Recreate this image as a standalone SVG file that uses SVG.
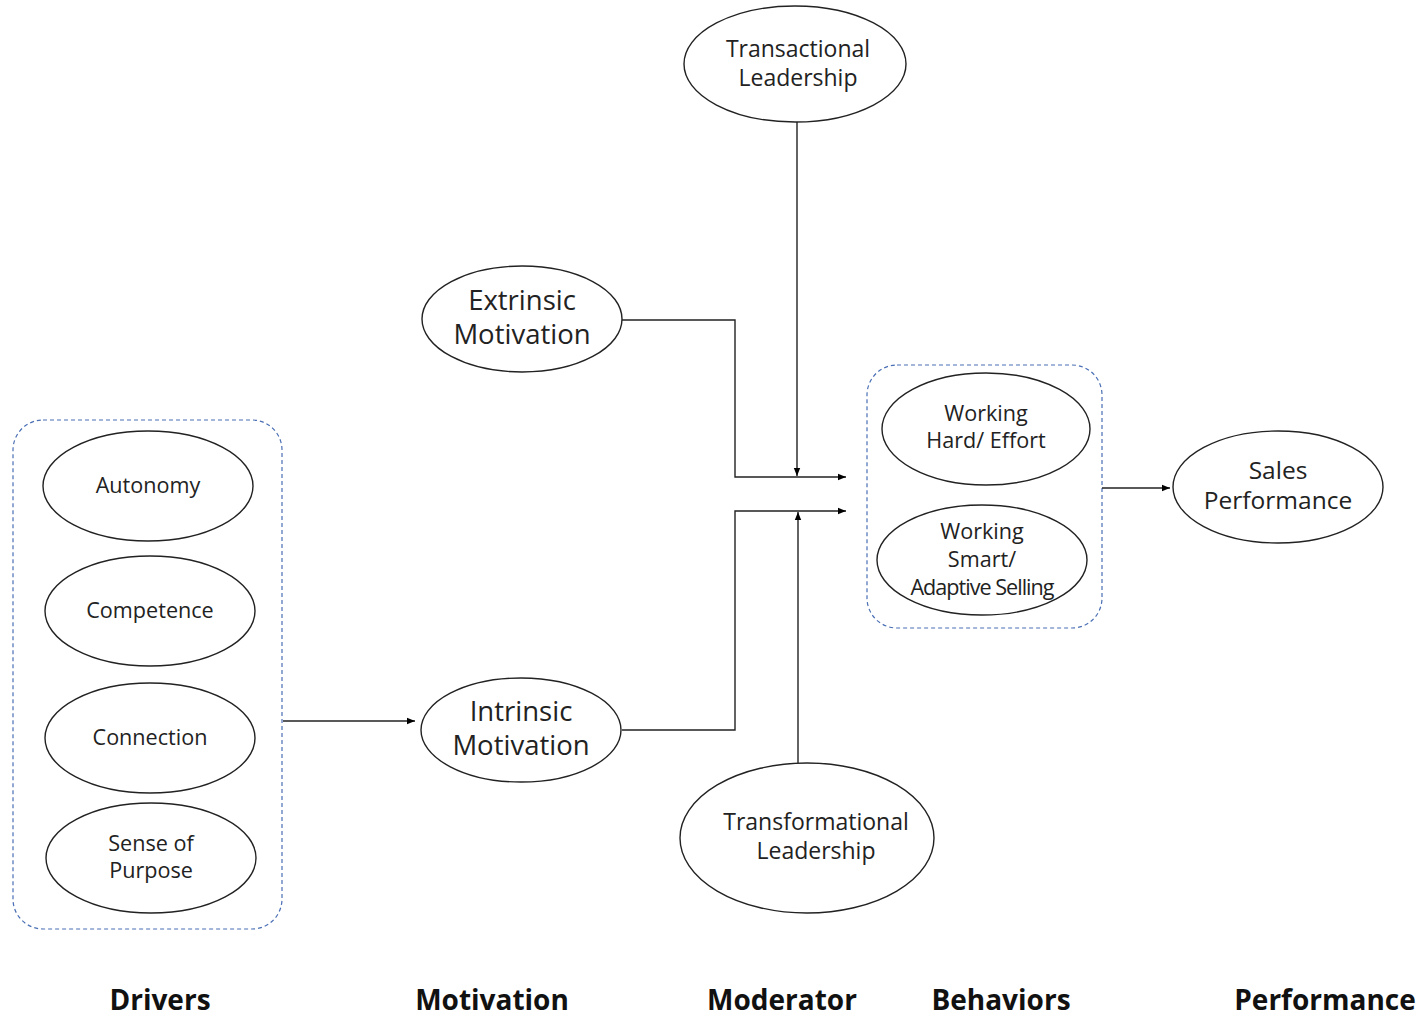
<svg xmlns="http://www.w3.org/2000/svg" width="1425" height="1018" viewBox="0 0 1425 1018">
  <defs>
    <marker id="arrow" viewBox="0 0 10 10" refX="10" refY="5" markerWidth="8" markerHeight="8" markerUnits="userSpaceOnUse" orient="auto">
      <path d="M0,1 L10,5 L0,9 z" fill="#000"/>
    </marker>
    <style>
      .node ellipse { fill: #fff; stroke: #222; stroke-width: 1.4; }
      .group-box { fill: none; stroke: #4a6fb5; stroke-width: 1.2; stroke-dasharray: 4 3; }
      .lbl { font-family: "Open Sans", "Liberation Sans", sans-serif; fill: #222; text-anchor: middle; }
      .s20 { font-size: 21.6px; }
      .s22 { font-size: 23px; }
      .s24 { font-size: 24.5px; }
      .s26 { font-size: 27.5px; }
      .stage { font-family: "Open Sans", "Liberation Sans", sans-serif; font-weight: bold; font-size: 28px; fill: #111; text-anchor: middle; }
      .conn { fill: none; stroke: #222; stroke-width: 1.4; }
    </style>
  </defs>
  <rect width="1425" height="1018" fill="#fff"/>

  <!-- dashed grouping boxes -->
  <rect id="drivers-group" class="group-box" x="13" y="420" width="269" height="509" rx="30"/>
  <rect id="behaviors-group" class="group-box" x="867" y="365" width="235" height="263" rx="30"/>

  <!-- connectors -->
  <g id="connectors">
    <path class="conn" d="M283,721 H415" marker-end="url(#arrow)"/>
    <path class="conn" d="M622,730 H735 V511 H846" marker-end="url(#arrow)"/>
    <path class="conn" d="M622,320 H735 V477 H846" marker-end="url(#arrow)"/>
    <path class="conn" d="M797,122 V476" marker-end="url(#arrow)"/>
    <path class="conn" d="M798,763 V512" marker-end="url(#arrow)"/>
    <path class="conn" d="M1102,488 H1170" marker-end="url(#arrow)"/>
  </g>

  <g id="transactional" class="node">
    <ellipse cx="795" cy="64" rx="111" ry="58"/>
    <text class="lbl s22" x="798" y="57">Transactional</text>
    <text class="lbl s22" x="798" y="86">Leadership</text>
  </g>
  <g id="extrinsic" class="node">
    <ellipse cx="522" cy="319" rx="100" ry="53"/>
    <text class="lbl s26" x="522" y="310">Extrinsic</text>
    <text class="lbl s26" x="522" y="344">Motivation</text>
  </g>
  <g id="intrinsic" class="node">
    <ellipse cx="521" cy="730" rx="100" ry="52"/>
    <text class="lbl s26" x="521" y="721">Intrinsic</text>
    <text class="lbl s26" x="521" y="755">Motivation</text>
  </g>
  <g id="transformational" class="node">
    <ellipse cx="807" cy="838" rx="127" ry="75"/>
    <text class="lbl s22" x="816" y="830">Transformational</text>
    <text class="lbl s22" x="816" y="859">Leadership</text>
  </g>
  <g id="working-hard" class="node">
    <ellipse cx="986" cy="429" rx="104" ry="56"/>
    <text class="lbl s20" x="986" y="421">Working</text>
    <text class="lbl s20" x="986" y="448">Hard/ Effort</text>
  </g>
  <g id="working-smart" class="node">
    <ellipse cx="982" cy="560" rx="105" ry="55"/>
    <text class="lbl s20" x="982" y="539">Working</text>
    <text class="lbl s20" x="982" y="567">Smart/</text>
    <text class="lbl s20" x="982" y="595" letter-spacing="-1">Adaptive Selling</text>
  </g>
  <g id="sales-performance" class="node">
    <ellipse cx="1278" cy="487" rx="105" ry="56"/>
    <text class="lbl s24" x="1278" y="479">Sales</text>
    <text class="lbl s24" x="1278" y="509">Performance</text>
  </g>
  <g id="autonomy" class="node">
    <ellipse cx="148" cy="486" rx="105" ry="55"/>
    <text class="lbl s20" x="148" y="493">Autonomy</text>
  </g>
  <g id="competence" class="node">
    <ellipse cx="150" cy="611" rx="105" ry="55"/>
    <text class="lbl s20" x="150" y="618">Competence</text>
  </g>
  <g id="connection" class="node">
    <ellipse cx="150" cy="738" rx="105" ry="55"/>
    <text class="lbl s20" x="150" y="745">Connection</text>
  </g>
  <g id="purpose" class="node">
    <ellipse cx="151" cy="858" rx="105" ry="55"/>
    <text class="lbl s20" x="151" y="851">Sense of</text>
    <text class="lbl s20" x="151" y="878">Purpose</text>
  </g>

  <!-- stage captions -->
  <g id="stages">
    <text class="stage" x="160" y="1010">Drivers</text>
    <text class="stage" x="492" y="1010">Motivation</text>
    <text class="stage" x="782" y="1010">Moderator</text>
    <text class="stage" x="1001" y="1010">Behaviors</text>
    <text class="stage" x="1325" y="1010">Performance</text>
  </g>
</svg>
